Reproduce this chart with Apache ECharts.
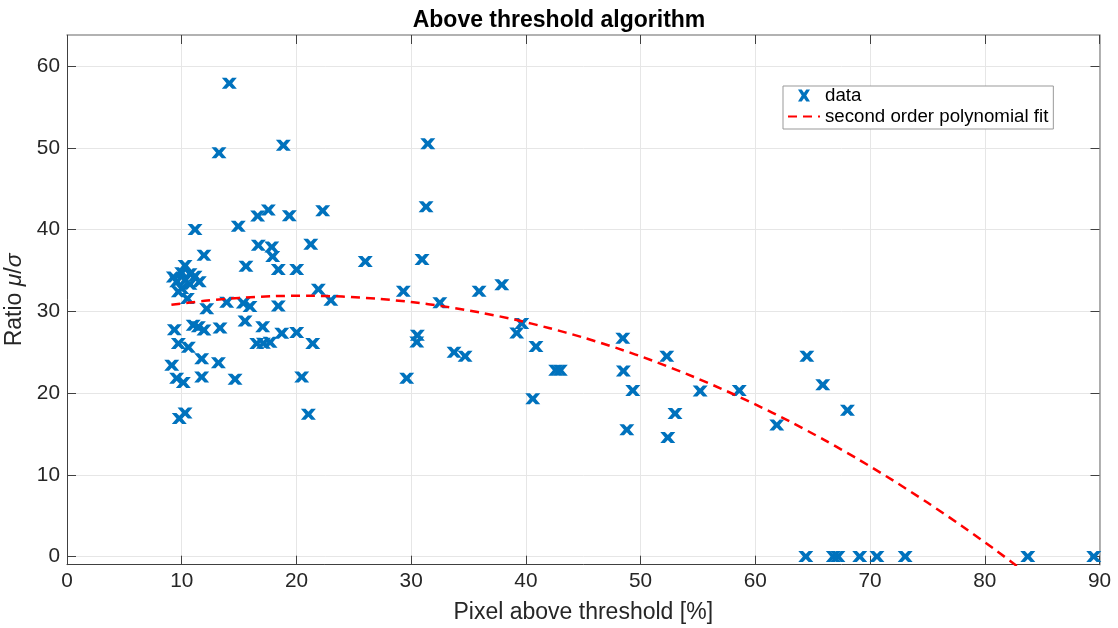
<!DOCTYPE html>
<html>
<head>
<meta charset="utf-8">
<script src="https://cdn.jsdelivr.net/npm/echarts@6/dist/echarts.min.js"></script>
<style>
  html, body { margin: 0; padding: 0; background: #fff; }
  #chart { width: 1118px; height: 628px; }
</style>
</head>
<body>
<div id="chart"></div>
<script>
// Measured samples: share of pixels above threshold [%] and the ratio mu/sigma
const pixelAbove = [
  14.15, 13.25, 18.86, 31.45, 31.3, 11.16, 14.93, 16.62, 17.55, 19.38, 22.29,
  16.68, 17.85, 17.93, 21.25, 11.94, 15.6, 18.42, 20.02, 21.91, 23.0, 26.0,
  30.95, 29.32, 32.5, 35.92, 37.9, 39.64, 39.2, 40.88, 30.54, 30.49, 33.74,
  34.7, 29.61, 40.6,
  10.29, 9.27, 10.0, 10.72, 11.16, 11.53, 9.56, 10.29, 10.72, 9.71, 10.49, 10.0,
  12.18, 13.92, 15.37, 15.95, 18.42,
  9.36, 11.0, 11.45, 11.94, 13.34, 15.52, 17.06, 18.72, 20.02, 21.42, 16.54,
  17.12, 17.7, 9.71, 10.58, 11.74, 13.2, 9.13, 11.74, 9.56, 10.14, 14.65,
  20.46, 10.29, 9.79, 21.04,
  42.6, 43.0, 48.45, 48.5, 49.32, 48.8, 52.28, 53.0, 52.37, 55.19, 58.6,
  61.87, 64.49, 65.88, 68.03,
  64.4, 66.8, 67.2, 69.1, 70.6, 73.06, 83.75, 89.5
];
const ratio = [
  57.9, 49.4, 50.3, 50.5, 42.8, 40.0, 40.4, 41.65, 42.4, 41.7, 42.3,
  38.07, 37.86, 36.7, 38.2, 36.85, 35.5, 35.1, 35.1, 32.7, 31.35, 36.1,
  36.35, 32.45, 31.05, 32.45, 33.25, 28.5, 27.35, 25.7, 27.06, 26.25, 25.0,
  24.5, 21.8, 19.3,
  35.6, 34.2, 34.7, 34.6, 34.3, 33.6, 33.6, 33.8, 33.3, 32.4, 31.55, 32.8,
  30.3, 31.1, 31.0, 30.6, 30.65,
  27.75, 28.3, 28.1, 27.7, 27.96, 28.8, 28.1, 27.3, 27.4, 26.05, 26.05,
  26.1, 26.2, 26.05, 25.6, 24.2, 23.7, 23.4, 21.96, 21.8, 21.3, 21.7,
  21.96, 17.56, 16.9, 17.4,
  22.8, 22.8, 26.7, 22.7, 20.3, 15.5, 24.5, 17.5, 14.55, 20.25, 20.3,
  16.1, 24.5, 21.0, 17.9,
  0, 0, 0, 0, 0, 0, 0, 0
];

// Second order polynomial fit, sampled along x
const fitX = [9.1, 12, 15, 18, 21, 24, 27, 30, 33, 36, 39, 42, 45, 48, 51, 54, 57, 60, 63, 66, 69, 72, 75, 78, 81, 84];
const fitY = [30.79, 31.28, 31.64, 31.85, 31.9, 31.8, 31.54, 31.13, 30.57, 29.85, 28.99, 27.96, 26.79, 25.46, 23.98, 22.34, 20.55, 18.61, 16.52, 14.27, 11.87, 9.31, 6.6, 3.74, 0.73, -2.44];

// Axis limits and tick positions
const xRange = [0, 90];
const yRange = [-1, 63.8];
const xTicks = [0, 10, 20, 30, 40, 50, 60, 70, 80, 90];
const yTicks = [0, 10, 20, 30, 40, 50, 60];

const FONT = '"Liberation Sans", Arial, Helvetica, sans-serif';
const BLUE = '#0072BD';
const CROSS = 'path://M0,0L3.1,0L5,2.7L6.9,0L10,0L6.9,5L10,10L6.9,10L5,7.3L3.1,10L0,10L3.1,5Z';

const chart = echarts.init(document.getElementById('chart'), null, { renderer: 'canvas' });

const gridLine = { show: true, lineStyle: { color: '#e6e6e6', width: 1 } };
const tickStyle = { color: '#404040', width: 1 };

chart.setOption({
  animation: false,
  backgroundColor: '#fff',
  title: {
    text: 'Above threshold algorithm',
    left: 554, top: 4, textAlign: 'center',
    textStyle: { fontFamily: FONT, fontSize: 23, fontWeight: 'bold', color: '#000' }
  },
  grid: { left: 67, top: 35, right: 18.5, bottom: 63.3, containLabel: false, outerBoundsMode: 'none' },
  legend: {
    orient: 'vertical',
    left: 783, top: 86,
    padding: [0, 5, 3, 4],
    itemGap: 2, itemWidth: 32, itemHeight: 12,
    backgroundColor: '#fff', borderColor: '#999', borderWidth: 1,
    textStyle: { fontFamily: FONT, fontSize: 18.7, color: '#000' },
    data: [
      { name: 'data', icon: CROSS },
      { name: 'second order polynomial fit', itemStyle: { opacity: 0 } }
    ]
  },
  xAxis: [{
    type: 'value', min: xRange[0], max: xRange[1], interval: 10,
    name: 'Pixel above threshold [%]', nameLocation: 'middle', nameGap: 36,
    nameTextStyle: { fontFamily: FONT, fontSize: 23, color: '#262626' },
    axisLine: { show: true, onZero: false, lineStyle: { color: '#404040', width: 1 } },
    axisTick: { show: true, inside: true, length: 9, lineStyle: tickStyle, customValues: xTicks },
    axisLabel: { fontFamily: FONT, fontSize: 20.8, color: '#262626', margin: 6, customValues: xTicks },
    splitLine: gridLine
  }, {
    type: 'value', position: 'top', min: xRange[0], max: xRange[1], interval: 10,
    axisLine: { show: true, onZero: false, lineStyle: { color: '#999', width: 1.5 } },
    axisTick: { show: true, inside: true, length: 9, lineStyle: tickStyle, customValues: xTicks },
    axisLabel: { show: false }, splitLine: { show: false }
  }],
  yAxis: [{
    type: 'value', min: yRange[0], max: yRange[1],
    name: '{n|Ratio }{i|μ}{n|/}{i|σ}', nameLocation: 'middle', nameGap: 30, nameRotate: 90,
    nameTextStyle: {
      fontFamily: FONT, fontSize: 23, color: '#262626',
      rich: {
        n: { fontFamily: FONT, fontSize: 23, color: '#262626' },
        i: { fontFamily: FONT, fontSize: 23, fontStyle: 'italic', color: '#262626' }
      }
    },
    axisLine: { show: true, onZero: false, lineStyle: { color: '#404040', width: 1 } },
    axisTick: { show: true, inside: true, length: 9, lineStyle: tickStyle, customValues: yTicks },
    axisLabel: { fontFamily: FONT, fontSize: 20.8, color: '#262626', margin: 7, customValues: yTicks },
    splitLine: gridLine
  }, {
    type: 'value', position: 'right', min: yRange[0], max: yRange[1],
    axisLine: { show: true, onZero: false, lineStyle: { color: '#999', width: 1.5 } },
    axisTick: { show: true, inside: true, length: 9, lineStyle: tickStyle, customValues: yTicks },
    axisLabel: { show: false }, splitLine: { show: false }
  }],
  series: [{
    name: 'data',
    type: 'scatter',
    symbol: CROSS,
    symbolSize: [15, 11],
    symbolKeepAspect: false,
    itemStyle: { color: BLUE, opacity: 1 },
    z: 2,
    data: pixelAbove.map((x, i) => [x, ratio[i]])
  }, {
    name: 'second order polynomial fit',
    type: 'line',
    smooth: 0.3,
    symbol: 'none',
    showSymbol: false,
    clip: true,
    lineStyle: { color: '#ff0000', width: 2.5, type: [9, 6] },
    itemStyle: { color: '#ff0000' },
    z: 3,
    data: fitX.map((x, i) => [x, fitY[i]])
  }]
});
</script>
</body>
</html>
